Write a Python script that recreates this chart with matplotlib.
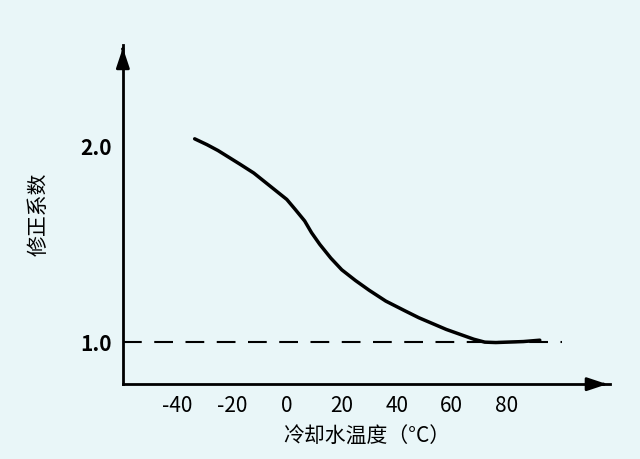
import matplotlib
matplotlib.use("Agg")
import matplotlib.pyplot as plt

plt.rcParams['font.family'] = ['Noto Sans CJK SC', 'DejaVu Sans']

temp = [-33.5, -29, -25, -21, -17, -12, -8, -4, 0, 3, 6.5, 9, 12, 16, 20, 25, 30, 36, 43, 48, 53, 58, 63, 68, 72, 76, 80, 86, 92]
factor = [2.04, 2.01, 1.98, 1.945, 1.91, 1.865, 1.82, 1.775, 1.73, 1.68, 1.62, 1.56, 1.50, 1.43, 1.37, 1.315, 1.265, 1.21, 1.16, 1.125, 1.095, 1.065, 1.04, 1.015, 1.00, 0.998, 1.00, 1.003, 1.01]
xticks = [-40, -20, 0, 20, 40, 60, 80]
yticks = [1.0, 2.0]

bg = '#e9f6f8'
fig = plt.figure(figsize=(6.4, 4.59), dpi=100, facecolor=bg)
ax = fig.add_axes([0.192, 0.163, 0.761, 0.739], facecolor=bg)
ax.set_xlim(-59.6, 117.5)
ax.set_ylim(0.785, 2.52)

ax.plot(temp, factor, color='black', lw=2.5, solid_capstyle='round', solid_joinstyle='round')
ax.plot([-59.6, 100], [1.0, 1.0], color='black', lw=1.5, dashes=(9, 6))

for s in ['top', 'right']:
    ax.spines[s].set_visible(False)
for s in ['left', 'bottom']:
    ax.spines[s].set_linewidth(2)
ax.annotate('', xy=(1.0, 0), xycoords='axes fraction', xytext=(0.98, 0),
            arrowprops=dict(arrowstyle='-|>,head_length=1.2,head_width=0.4', color='black', lw=2))
ax.annotate('', xy=(0, 1.0), xycoords='axes fraction', xytext=(0, 0.98),
            arrowprops=dict(arrowstyle='-|>,head_length=1.2,head_width=0.4', color='black', lw=2))

ax.set_xticks(xticks)
ax.set_xticklabels([str(t) for t in xticks], fontsize=15)
ax.set_yticks(yticks)
ax.set_yticklabels(['1.0', '2.0'], fontsize=15, fontweight='bold')
ax.tick_params(length=0, pad=8)
ax.set_xlabel('冷却水温度（°C）', fontsize=15, labelpad=6)
ax.set_ylabel('修正系数', fontsize=15, labelpad=22)

fig.savefig('out.png', dpi=100, facecolor=bg)
